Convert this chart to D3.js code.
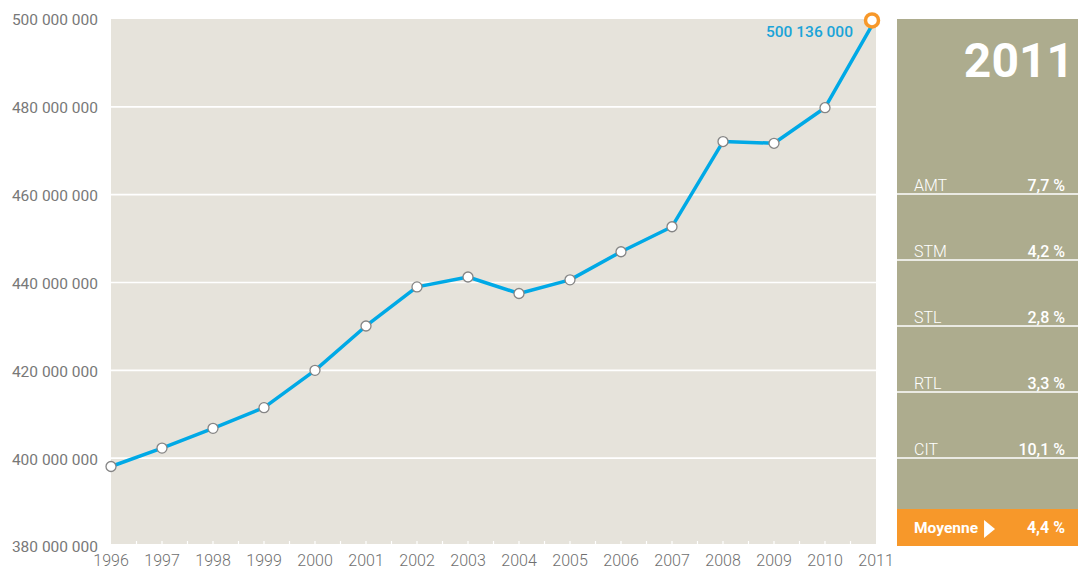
<!DOCTYPE html>
<html>
<head>
<meta charset="utf-8">
<script src="https://cdn.jsdelivr.net/npm/d3@7"></script>
<style>
  body { margin: 0; background: #fff; }
  svg { display: block; font-family: Roboto, "DejaVu Sans", sans-serif; }
</style>
</head>
<body>
<div id="chart"></div>
<script>
// achalandage annuel (passages), 1996-2011
var years = [1996, 1997, 1998, 1999, 2000, 2001, 2002, 2003, 2004, 2005, 2006, 2007, 2008, 2009, 2010, 2011];
var passages = [398100000, 402300000, 406800000, 411500000, 420000000, 430100000, 439000000, 441250000,
                437500000, 440600000, 447000000, 452700000, 472100000, 471700000, 479800000, 500136000];
var yTicks = [380000000, 400000000, 420000000, 440000000, 460000000, 480000000, 500000000];

// croissance par organisme
var orgLabels = ["AMT", "STM", "STL", "RTL", "CIT"];
var orgValues = ["7,7 %", "4,2 %", "2,8 %", "3,3 %", "10,1 %"];
var panelYear = "2011";
var moyenneLabel = "Moyenne";
var moyenneValue = "4,4 %";

var width = 1078, height = 571;
var plotLeft = 111, plotRight = 876, plotTop = 19, plotBottom = 544;

var fr = d3.formatLocale({ decimal: ",", thousands: " ", grouping: [3], currency: ["", " $"] });
var fmt = fr.format(",.0f");

var svg = d3.select("#chart").append("svg")
    .attr("width", width)
    .attr("height", height);

var x = d3.scaleLinear()
    .domain([years[0], years[years.length - 1]])
    .range([plotLeft, plotRight]);

var y = d3.scaleLinear()
    .domain([380000000, 500000000])
    .range([546, 19]);

// fond
svg.append("rect")
    .attr("x", plotLeft)
    .attr("y", plotTop)
    .attr("width", plotRight - plotLeft)
    .attr("height", plotBottom - plotTop)
    .attr("fill", "#e6e3db");

// grille
svg.selectAll(".grid")
    .data(yTicks.filter(function (d) { return d > 380000000 && d < 500000000; }))
    .enter().append("line")
    .attr("class", "grid")
    .attr("x1", plotLeft)
    .attr("x2", plotRight)
    .attr("y1", function (d) { return y(d); })
    .attr("y2", function (d) { return y(d); })
    .attr("stroke", "#fff")
    .attr("stroke-width", 1.6);

// petits traits (demi-annees)
var halfTicks = d3.range(years[0] + 0.5, years[years.length - 1], 0.5);
svg.selectAll(".tick")
    .data(halfTicks)
    .enter().append("line")
    .attr("x1", function (d) { return x(d); })
    .attr("x2", function (d) { return x(d); })
    .attr("y1", plotBottom - 3)
    .attr("y2", plotBottom)
    .attr("stroke", "#fff")
    .attr("stroke-width", 1.2);

// etiquettes y
svg.selectAll(".ylab")
    .data(yTicks)
    .enter().append("text")
    .attr("x", 98)
    .attr("y", function (d) { return y(d) + 1; })
    .attr("dy", "0.35em")
    .attr("text-anchor", "end")
    .attr("font-size", "15.5px")
    .attr("fill", "#787878")
    .text(function (d) { return fmt(d); });

// etiquettes x
svg.selectAll(".xlab")
    .data(years)
    .enter().append("text")
    .attr("x", function (d) { return x(d); })
    .attr("y", 566)
    .attr("text-anchor", "middle")
    .attr("font-size", "16px")
    .attr("font-weight", 300)
    .attr("fill", "#6f6f6f")
    .text(function (d) { return d; });

// courbe
var line = d3.line()
    .x(function (d, i) { return x(years[i]); })
    .y(function (d) { return y(d); });

svg.append("path")
    .datum(passages)
    .attr("d", line)
    .attr("fill", "none")
    .attr("stroke", "#00a9e6")
    .attr("stroke-width", 3.5)
    .attr("stroke-linejoin", "round");

var last = passages.length - 1;

svg.selectAll(".pt")
    .data(passages.slice(0, last))
    .enter().append("circle")
    .attr("cx", function (d, i) { return x(years[i]); })
    .attr("cy", function (d) { return y(d); })
    .attr("r", 5)
    .attr("fill", "#fff")
    .attr("stroke", "#858585")
    .attr("stroke-width", 1.3);

// dernier point (mis en valeur)
svg.append("circle")
    .attr("cx", x(years[last]) - 4)
    .attr("cy", y(passages[last]) + 2)
    .attr("r", 6.5)
    .attr("fill", "#fff")
    .attr("stroke", "#f7982a")
    .attr("stroke-width", 3.5);

svg.append("text")
    .attr("x", 853)
    .attr("y", 37)
    .attr("text-anchor", "end")
    .attr("font-size", "15.5px")
    .attr("font-weight", 500)
    .attr("fill", "#1aa3d8")
    .text(fmt(passages[last]));

// panneau de droite
var panelX = 897, panelW = width - panelX;
svg.append("rect")
    .attr("x", panelX)
    .attr("y", plotTop)
    .attr("width", panelW)
    .attr("height", 546 - plotTop)
    .attr("fill", "#adac8e");

svg.append("text")
    .attr("x", 1074)
    .attr("y", 77)
    .attr("text-anchor", "end")
    .attr("font-size", "48px")
    .attr("font-weight", 700)
    .attr("fill", "#fff")
    .text(panelYear);

var row = d3.scaleLinear()
    .domain([0, orgLabels.length])
    .range([128, 128 + 66 * orgLabels.length]);

var rows = svg.selectAll(".row")
    .data(orgLabels)
    .enter().append("g");

rows.append("line")
    .attr("x1", panelX)
    .attr("x2", width)
    .attr("y1", function (d, i) { return row(i + 1); })
    .attr("y2", function (d, i) { return row(i + 1); })
    .attr("stroke", "#fff")
    .attr("stroke-width", 1.3);

rows.append("text")
    .attr("x", 914)
    .attr("y", function (d, i) { return row(i + 1) - 3; })
    .attr("font-size", "16px")
    .attr("font-weight", 300)
    .attr("fill", "#fff")
    .text(function (d) { return d; });

rows.append("text")
    .attr("x", 1065)
    .attr("y", function (d, i) { return row(i + 1) - 3; })
    .attr("text-anchor", "end")
    .attr("font-size", "16px")
    .attr("font-weight", 500)
    .attr("fill", "#fff")
    .text(function (d, i) { return orgValues[i]; });

// moyenne
svg.append("rect")
    .attr("x", panelX)
    .attr("y", 509)
    .attr("width", panelW)
    .attr("height", 37)
    .attr("fill", "#f7982a");

var moy = svg.append("text")
    .attr("x", 914)
    .attr("y", 533)
    .attr("font-size", "15.5px")
    .attr("font-weight", 700)
    .attr("fill", "#fff")
    .text(moyenneLabel);

var mw = moy.node().getComputedTextLength();
var tx = 914 + mw + 6;
svg.append("path")
    .attr("d", "M" + tx + ",520 L" + (tx + 11) + ",529 L" + tx + ",538 Z")
    .attr("fill", "#fff");

svg.append("text")
    .attr("x", 1065)
    .attr("y", 533)
    .attr("text-anchor", "end")
    .attr("font-size", "16px")
    .attr("font-weight", 700)
    .attr("fill", "#fff")
    .text(moyenneValue);
</script>
</body>
</html>
